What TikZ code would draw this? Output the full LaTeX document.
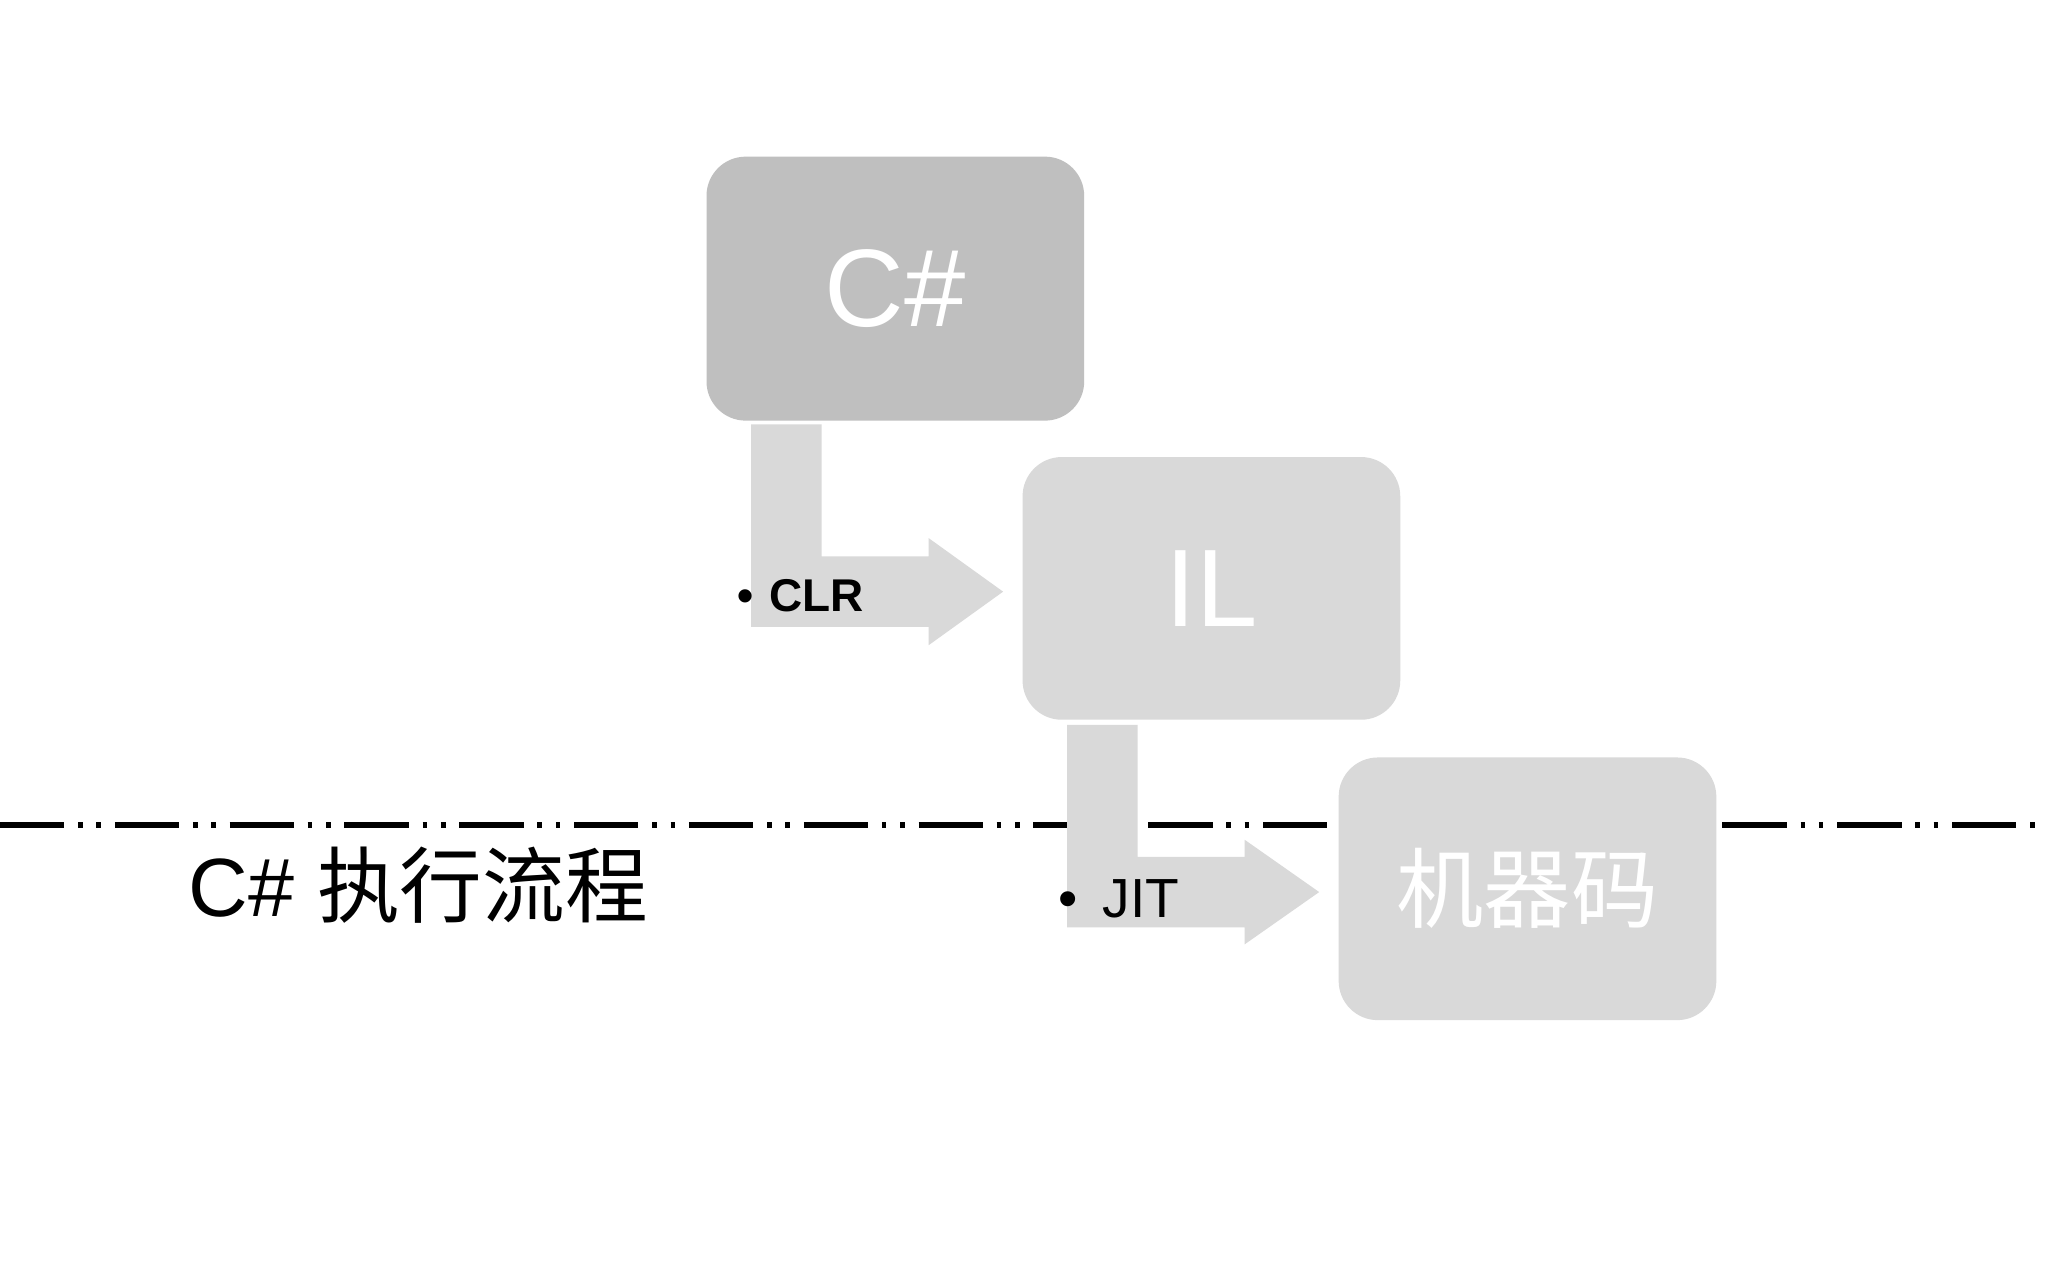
\documentclass[tikz,border=0pt]{standalone}
\usepackage{fontspec}
\setmainfont{Liberation Sans}
\newfontfamily\cjk{Noto Sans CJK SC}
\begin{document}
\begin{tikzpicture}[x=0.01cm,y=-0.01cm,
  box/.style={rounded corners=0.3cm,draw=none},
  arr/.style={fill=gray!30,draw=none}]
\definecolor{dk}{HTML}{BFBFBF}
\definecolor{lt}{HTML}{D9D9D9}
\useasboundingbox (0,0) rectangle (1568,980);
\fill[white] (0,0) rectangle (1568,980);
\coordinate (L) at (0,632);
\coordinate (R) at (1568,632);
\draw[line width=1.3pt,dash pattern=on 14pt off 3pt on 1pt off 3pt on 1pt off 3pt] (L) -- (R);
% arrows
\fill[lt] (575,325) -- (629,325) -- (629,426) -- (711,426) -- (711,412) -- (768,453) -- (711,494) -- (711,480) -- (575,480) -- cycle;
\fill[lt] (817,555) -- (871,555) -- (871,656) -- (953,656) -- (953,643) -- (1010,683) -- (953,723) -- (953,710) -- (817,710) -- cycle;
% boxes
\node[box,fill=dk,minimum width=2.89cm,minimum height=2.02cm,text=white,font=\fontsize{24}{28}\selectfont] (cs) at (685.5,221) {C\#};
\node[box,fill=lt,minimum width=2.89cm,minimum height=2.01cm,text=white,font=\fontsize{24}{28}\selectfont] (il) at (927.5,450.5) {IL};
\node[box,fill=lt,minimum width=2.89cm,minimum height=2.01cm,text=white,font=\cjk\fontsize{19}{22}\selectfont] (mc) at (1169.5,680.5) {机器码};
\node[anchor=west,font=\bfseries\fontsize{10}{12}\selectfont] (clr) at (552,456) {•\hspace{0.35em}CLR};
\node[anchor=west,font=\fontsize{12}{14}\selectfont] (jit) at (798,688) {•\hspace{0.45em}JIT};
\node[anchor=west,font=\fontsize{18}{22}\selectfont] (title) at (132,678) {C\# {\cjk 执行流程}};
\end{tikzpicture}
\end{document}
